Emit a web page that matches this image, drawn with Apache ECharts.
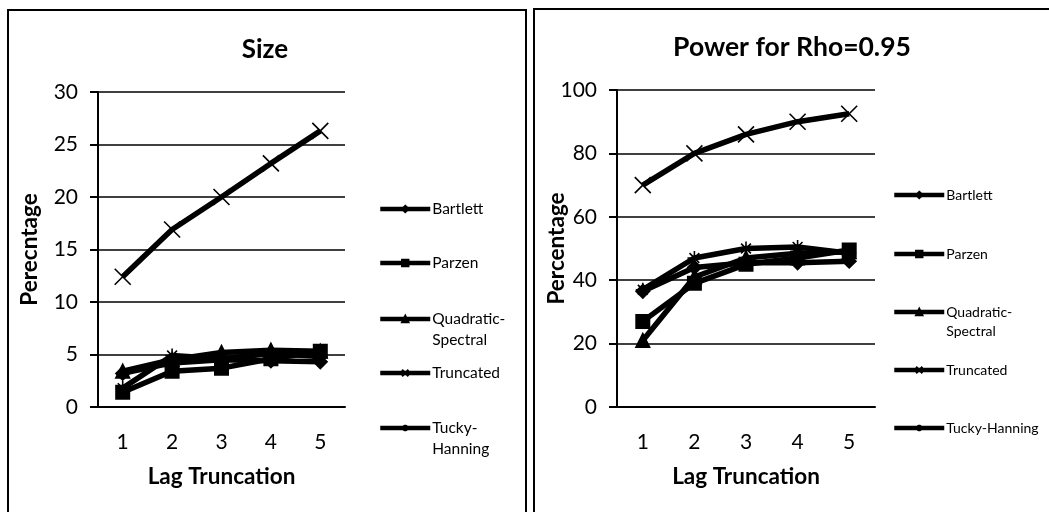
<!DOCTYPE html>
<html>
<head>
<meta charset="utf-8">
<script src="https://cdn.jsdelivr.net/npm/echarts@6/dist/echarts.min.js"></script>
<style>
  html, body { margin: 0; padding: 0; background: #fff; }
  #chart { width: 1049px; height: 512px; }
</style>
</head>
<body>
<div id="chart"></div>
<script>
// Lag truncation categories shared by both panels
const lags = ['1', '2', '3', '4', '5'];

// Kernel names (legend order)
const kernels = ['Bartlett', 'Parzen', 'Quadratic-Spectral', 'Truncated', 'Tucky-Hanning'];

// Size (%) by lag truncation
const sizeBartlett  = [3.2, 4.2, 4.5, 4.4, 4.3];
const sizeParzen    = [1.4, 3.4, 3.7, 4.6, 5.3];
const sizeQS        = [3.4, 4.5, 5.2, 5.4, 5.3];
const sizeTruncated = [12.4, 16.9, 20.0, 23.2, 26.3];
const sizeTucky     = [1.8, 4.9, 4.6, 5.1, 4.8];

// Power (%) for rho = 0.95 by lag truncation
const powBartlett  = [36.5, 44, 45.5, 45.5, 46];
const powParzen    = [27, 39, 45, 47, 49.5];
const powQS        = [21, 41, 47, 48.5, 49];
const powTruncated = [70, 80, 86, 90, 92.5];
const powTucky     = [37, 47, 50, 50.5, 48.5];

const FONT = 'Lato';
const INK = '#000';

const crossPath = 'path://M0,0L10,10M10,0L0,10';
const starPath = 'path://M5,0L5,10M0,5L10,5M1.5,1.5L8.5,8.5M8.5,1.5L1.5,8.5';

const markers = {
  'Bartlett':           { symbol: 'diamond',  size: 13, stroke: false },
  'Parzen':             { symbol: 'rect',     size: 13, stroke: false },
  'Quadratic-Spectral': { symbol: 'triangle', size: 13, stroke: false },
  'Truncated':          { symbol: crossPath,  size: 16, stroke: true },
  'Tucky-Hanning':      { symbol: starPath,   size: 14, stroke: true }
};

function makeSeries(name, data, idx) {
  const m = markers[name];
  return {
    name: name,
    type: 'line',
    xAxisIndex: idx,
    yAxisIndex: idx,
    data: data,
    symbol: m.symbol,
    symbolSize: m.size,
    showAllSymbol: true,
    lineStyle: { color: INK, width: 5.5 },
    itemStyle: m.stroke
      ? { color: 'transparent', borderColor: INK, borderWidth: 1.6 }
      : { color: INK, borderColor: INK, borderWidth: 2 },
    emphasis: { disabled: true },
    z: 3
  };
}

function makeYAxis(idx, max, interval, title, gap) {
  return {
    type: 'value', gridIndex: idx, min: 0, max: max, interval: interval,
    name: title, nameLocation: 'middle', nameGap: gap, nameMoveOverlap: false,
    nameTextStyle: { fontFamily: FONT, fontSize: 22.5, fontWeight: 'bold', color: INK },
    axisLine: { show: true, lineStyle: { color: INK, width: 2 } },
    axisTick: { show: true, length: 8, lineStyle: { color: INK, width: 2 } },
    axisLabel: { fontFamily: FONT, fontSize: 21, color: INK, margin: 20 },
    splitLine: { show: true, lineStyle: { color: INK, width: 1.6 } }
  };
}

function makeXAxis(idx) {
  return {
    type: 'category', gridIndex: idx, data: lags, boundaryGap: true,
    name: 'Lag Truncation', nameLocation: 'middle', nameGap: 58, nameMoveOverlap: false,
    nameTextStyle: { fontFamily: FONT, fontSize: 22.5, fontWeight: 'bold', color: INK },
    axisLine: { show: true, lineStyle: { color: INK, width: 2 } },
    axisTick: { show: false },
    axisLabel: { fontFamily: FONT, fontSize: 21, color: INK, margin: 25 },
    splitLine: { show: false }
  };
}

// One legend block per kernel so each key sits level with its first text line
function makeLegends(left, centers, splitNames, fontSize) {
  return kernels.map(function (name, i) {
    const split = splitNames[name];
    const lh = fontSize + 5;
    const text = split ? '\n' + split : name;
    const h = split ? lh * 3 : lh;
    return {
      data: [name],
      orient: 'vertical',
      left: left,
      top: centers[i] - h / 2,
      itemWidth: 50,
      itemHeight: 8,
      itemGap: 0,
      padding: 0,
      selectedMode: false,
      formatter: function () { return text; },
      textStyle: { fontFamily: FONT, fontSize: fontSize, lineHeight: lh, color: INK, padding: [0, 0, 0, -3] },
      lineStyle: { width: 4.5, color: INK }
    };
  });
}

const legendsLeft = makeLegends(378, [209, 263, 319, 373, 428],
  { 'Quadratic-Spectral': 'Quadratic-\nSpectral', 'Tucky-Hanning': 'Tucky-\nHanning' }, 15.5);
const legendsRight = makeLegends(892, [195, 254, 312, 370, 428],
  { 'Quadratic-Spectral': 'Quadratic-\nSpectral' }, 14);

const option = {
  animation: false,
  backgroundColor: '#fff',
  title: [
    { text: 'Size', left: 260, top: 32, textAlign: 'center',
      textStyle: { fontFamily: FONT, fontSize: 26, fontWeight: 'bold', color: INK } },
    { text: 'Power for Rho=0.95', left: 787, top: 29, textAlign: 'center',
      textStyle: { fontFamily: FONT, fontSize: 26.5, fontWeight: 'bold', color: INK } }
  ],
  grid: [
    { left: 98, top: 92, width: 247, height: 315 },
    { left: 617, top: 90, width: 258, height: 317 }
  ],
  xAxis: [makeXAxis(0), makeXAxis(1)],
  yAxis: [makeYAxis(0, 30, 5, 'Perecntage', 57), makeYAxis(1, 100, 20, 'Percentage', 49)],
  legend: legendsLeft.concat(legendsRight),
  series: [
    makeSeries('Bartlett', sizeBartlett, 0),
    makeSeries('Parzen', sizeParzen, 0),
    makeSeries('Quadratic-Spectral', sizeQS, 0),
    makeSeries('Truncated', sizeTruncated, 0),
    makeSeries('Tucky-Hanning', sizeTucky, 0),
    makeSeries('Bartlett', powBartlett, 1),
    makeSeries('Parzen', powParzen, 1),
    makeSeries('Quadratic-Spectral', powQS, 1),
    makeSeries('Truncated', powTruncated, 1),
    makeSeries('Tucky-Hanning', powTucky, 1)
  ],
  // Panel frames
  graphic: [
    { type: 'rect', shape: { x: 8, y: 10, width: 518, height: 520 },
      style: { fill: 'none', stroke: INK, lineWidth: 2 }, silent: true },
    { type: 'rect', shape: { x: 534, y: 9, width: 530, height: 520 },
      style: { fill: 'none', stroke: INK, lineWidth: 2 }, silent: true }
  ]
};

const chart = echarts.init(document.getElementById('chart'), null, { renderer: 'canvas' });
chart.setOption(option);
</script>
</body>
</html>
